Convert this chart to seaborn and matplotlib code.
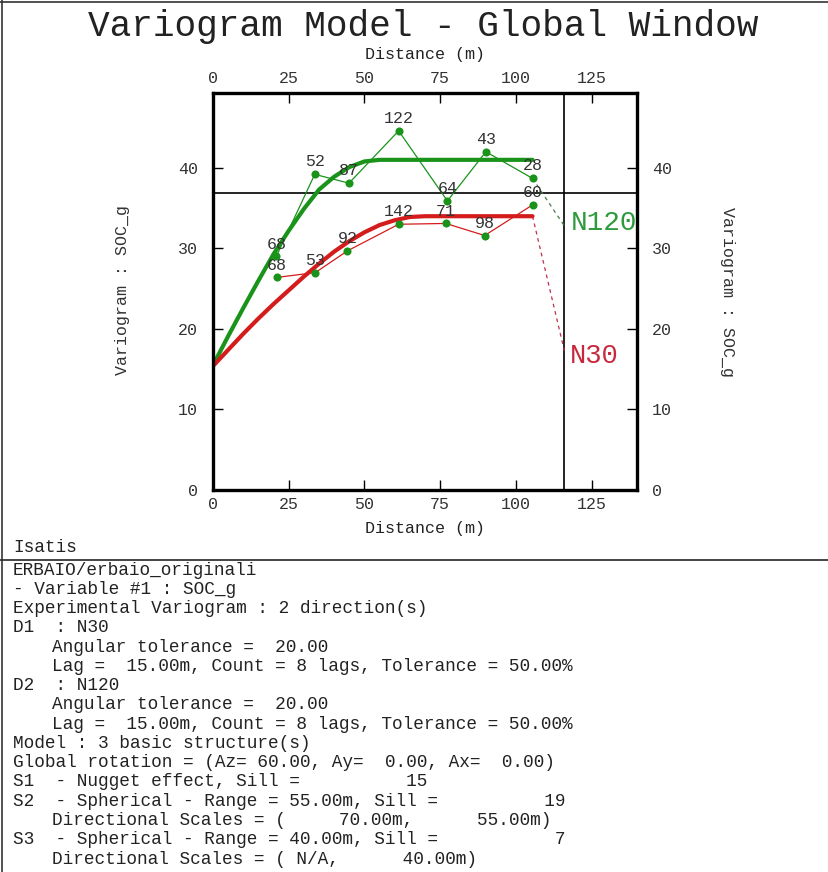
import matplotlib
matplotlib.use("Agg")
import matplotlib.pyplot as plt
import seaborn as sns
import pandas as pd
from matplotlib.lines import Line2D

# ---------------- data ----------------
n120_dist = [20.9, 33.6, 44.9, 61.3, 77.4, 90.1, 105.5]
n120_gamma = [29.0, 39.2, 38.1, 44.6, 35.9, 42.0, 38.7]
n120_pairs = [68, 52, 87, 122, 64, 43, 28]

n30_dist = [21.1, 33.8, 44.4, 61.3, 76.9, 89.7, 105.5]
n30_gamma = [26.4, 27.0, 29.7, 33.0, 33.1, 31.6, 35.4]
n30_pairs = [68, 53, 92, 142, 71, 98, 60]

model_h = [0, 5, 10, 15, 20, 25, 30, 35, 40, 45, 50, 55, 60, 65, 70, 105.5]
model_n120 = [15.5, 19.1, 22.6, 26.0, 29.3, 32.2, 34.9, 37.3, 38.9, 40.1, 40.8, 41.0, 41.0, 41.0, 41.0, 41.0]
model_n30 = [15.4, 17.4, 19.4, 21.3, 23.1, 24.8, 26.5, 28.1, 29.6, 30.9, 32.0, 32.9, 33.5, 33.9, 34.0, 34.0]

label_h = 116.0
label_n120 = 32.8
label_n30 = 17.3
variance = 36.9

x_ticks = [0, 25, 50, 75, 100, 125]
y_ticks = [0, 10, 20, 30, 40]

info_lines = [
    "ERBAIO/erbaio_originali",
    "- Variable #1 : SOC_g",
    "Experimental Variogram : 2 direction(s)",
    "D1  : N30",
    "    Angular tolerance =  20.00",
    "    Lag =  15.00m, Count = 8 lags, Tolerance = 50.00%",
    "D2  : N120",
    "    Angular tolerance =  20.00",
    "    Lag =  15.00m, Count = 8 lags, Tolerance = 50.00%",
    "Model : 3 basic structure(s)",
    "Global rotation = (Az= 60.00, Ay=  0.00, Ax=  0.00)",
    "S1  - Nugget effect, Sill =          15",
    "S2  - Spherical - Range = 55.00m, Sill =          19",
    "    Directional Scales = (     70.00m,      55.00m)",
    "S3  - Spherical - Range = 40.00m, Sill =           7",
    "    Directional Scales = ( N/A,      40.00m)",
]

# ---------------- style ----------------
sns.set_theme(style="white")
plt.rcParams['font.family'] = ['Liberation Mono', 'DejaVu Sans Mono']

GREEN = '#1a931a'
RED = '#d41c1c'
W, H = 829, 872
fig = plt.figure(figsize=(W / 100, H / 100), dpi=100)
ax = fig.add_axes([213 / W, 1 - 490 / H, (637 - 213) / W, (490 - 93) / H])

exp = pd.concat([
    pd.DataFrame({'h': n120_dist, 'g': n120_gamma, 'dir': 'N120'}),
    pd.DataFrame({'h': n30_dist, 'g': n30_gamma, 'dir': 'N30'}),
])
mod = pd.concat([
    pd.DataFrame({'h': model_h, 'g': model_n120, 'dir': 'N120'}),
    pd.DataFrame({'h': model_h, 'g': model_n30, 'dir': 'N30'}),
])
pal = {'N120': GREEN, 'N30': RED}

# reference lines
ax.axhline(variance, color='black', lw=1.2, zorder=1)
ax.axvline(label_h, color='black', lw=1.2, zorder=1)

# experimental (thin)
sns.lineplot(data=exp, x='h', y='g', hue='dir', palette=pal, lw=0.9,
             estimator=None, sort=False, legend=False, ax=ax, zorder=3)
# model (thick)
sns.lineplot(data=mod, x='h', y='g', hue='dir', palette=pal, lw=3.0,
             estimator=None, sort=False, legend=False, ax=ax, zorder=4)
# points
sns.scatterplot(data=exp, x='h', y='g', color=GREEN, s=34, edgecolor=GREEN,
                linewidth=0, legend=False, ax=ax, zorder=5)

# dashed connectors to labels
ax.plot([n120_dist[-1], label_h], [n120_gamma[-1], label_n120], ls=(0, (3, 3)),
        color='#4a7a4a', lw=0.9, zorder=3)
ax.plot([model_h[-1], label_h], [model_n30[-1], label_n30], ls=(0, (3, 3)),
        color='#c0304a', lw=0.9, zorder=3)

# pair counts
for xs, ys, ns in [(n120_dist, n120_gamma, n120_pairs), (n30_dist, n30_gamma, n30_pairs)]:
    for x, y, n in zip(xs, ys, ns):
        ax.annotate(str(n), (x, y), xytext=(0, 3.5), textcoords='offset points',
                    ha='center', va='bottom', fontsize=12, color='#333333', zorder=6)

# direction labels
ax.text(label_h + 2.0, label_n120 + 0.3, 'N120', color='#2e9a3e', fontsize=20,
        ha='left', va='center', clip_on=True, zorder=2)
ax.text(label_h + 2.0, label_n30 - 0.6, 'N30', color='#c8283c', fontsize=19.5,
        ha='left', va='center', clip_on=True, zorder=2)

ax.set_xlim(0, 140)
ax.set_ylim(0, 49.3)
ax.set_xticks(x_ticks)
ax.set_yticks(y_ticks)
ax.set_xticklabels([str(t) for t in x_ticks])
ax.set_yticklabels([str(t) for t in y_ticks])
ax.set_xlabel('')
ax.set_ylabel('')
for s in ax.spines.values():
    s.set_visible(True)
    s.set_linewidth(2.4)
    s.set_color('black')
    s.set_zorder(10)
ax.tick_params(axis='x', which='both', direction='in', length=7, width=1.0,
               top=True, bottom=True, labeltop=True, labelbottom=True,
               labelsize=12, pad=5, colors='black', labelcolor='#333333')
ax.tick_params(axis='y', which='both', direction='in', length=7, width=1.0,
               left=True, right=True, labelleft=True, labelright=True,
               labelsize=12, pad=11, colors='black', labelcolor='#333333')
ax.grid(False)
ax.set_facecolor('white')

# titles and axis labels
fig.text(423 / W, 1 - 27 / H, 'Variogram Model - Global Window', ha='center',
         va='center', fontsize=26, color='#222222')
fig.text(425 / W, 1 - 55 / H, 'Distance (m)', ha='center', va='center',
         fontsize=12, color='#222222')
fig.text(425 / W, 1 - 528 / H, 'Distance (m)', ha='center', va='center',
         fontsize=12, color='#222222')
fig.text(123 / W, 1 - 290 / H, 'Variogram : SOC_g', ha='center', va='center',
         rotation=90, fontsize=12, color='#333333')
fig.text(728 / W, 1 - 292 / H, 'Variogram : SOC_g', ha='center', va='center',
         rotation=-90, fontsize=12, color='#333333')

# info block
fig.text(13 / W, 1 - 547 / H, 'Isatis', ha='left', va='center', fontsize=12.8,
         color='#222222')
for i, line in enumerate(info_lines):
    y = 570 + 19.27 * i
    x = 52 if line.startswith(' ') else 13
    fig.text(x / W, 1 - y / H, line.strip(), ha='left', va='center', fontsize=12.8,
             color='#222222')

# frame lines
fig.add_artist(Line2D([0, 1], [1 - 560 / H, 1 - 560 / H], color='#444444', lw=1.4))
fig.add_artist(Line2D([2.5 / W, 2.5 / W], [0, 1], color='#333333', lw=1.2))
fig.add_artist(Line2D([0, 1], [1 - 2.5 / H, 1 - 2.5 / H], color='#333333', lw=1.2))

fig.savefig('out.png', dpi=100, facecolor='white')
